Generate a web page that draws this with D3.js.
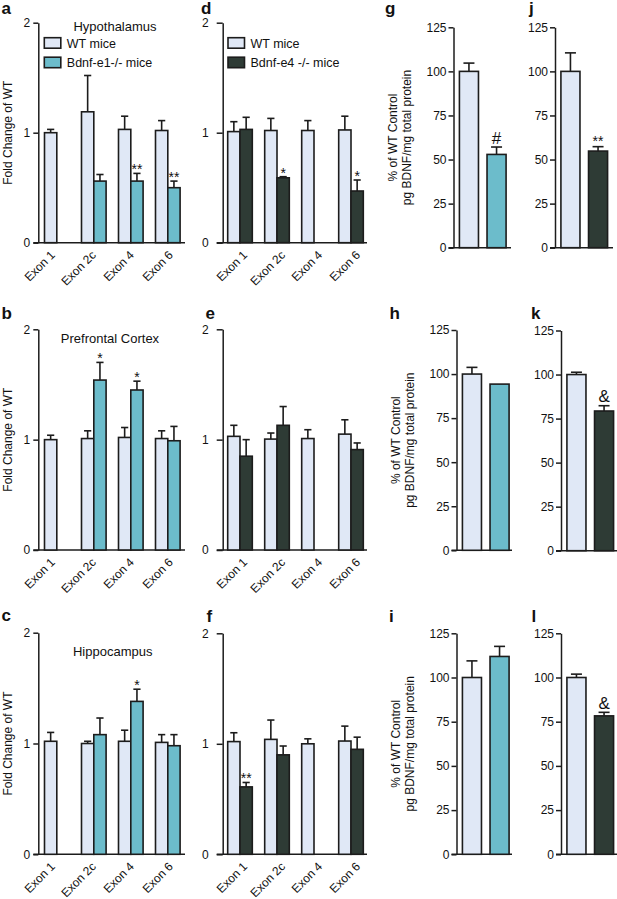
<!DOCTYPE html>
<html><head><meta charset="utf-8">
<script src="https://cdn.jsdelivr.net/npm/d3@7"></script>
<style>
body{margin:0;background:#fff;}
svg{display:block;font-family:"Liberation Sans",Arial,Helvetica,sans-serif;}
</style>
</head><body>
<svg id="chart" width="617" height="899"></svg>
<script>
// ---------- DATA ----------
const exons = ["Exon 1", "Exon 2c", "Exon 4", "Exon 6"];
const groups = ["WT", "KO"];
const foldTicks = [0, 1, 2];
const proteinTicks = [0, 25, 50, 75, 100, 125];
const legendA = ["WT mice", "Bdnf-e1-/- mice"];
const legendD = ["WT mice", "Bdnf-e4 -/- mice"];
const regionTitles = ["Hypothalamus", "Prefrontal Cortex", "Hippocampus"];

// a: Hypothalamus, Bdnf-e1
const wtA = [1.00, 1.19, 1.03, 1.02];
const wtAErr = [0.03, 0.33, 0.12, 0.09];
const koA = [null, 0.56, 0.56, 0.50];
const koAErr = [null, 0.06, 0.07, 0.06];
const sigA = ["", "", "**", "**"];
// b: Prefrontal cortex, Bdnf-e1
const wtB = [1.00, 1.01, 1.02, 1.01];
const wtBErr = [0.04, 0.07, 0.09, 0.07];
const koB = [null, 1.54, 1.45, 0.99];
const koBErr = [null, 0.16, 0.08, 0.13];
const sigB = ["", "*", "*", ""];
// c: Hippocampus, Bdnf-e1
const wtC = [1.02, 1.00, 1.02, 1.01];
const wtCErr = [0.08, 0.02, 0.10, 0.07];
const koC = [null, 1.08, 1.38, 0.98];
const koCErr = [null, 0.15, 0.11, 0.10];
const sigC = ["", "", "*", ""];
// d: Hypothalamus, Bdnf-e4
const wtD = [1.01, 1.02, 1.02, 1.025];
const wtDErr = [0.09, 0.11, 0.09, 0.125];
const koD = [1.03, 0.59, null, 0.47];
const koDErr = [0.11, 0.01, null, 0.10];
const sigD = ["", "*", "", "*"];
// e: Prefrontal cortex, Bdnf-e4
const wtE = [1.03, 1.005, 1.01, 1.05];
const wtEErr = [0.10, 0.055, 0.08, 0.13];
const koE = [0.85, 1.13, null, 0.91];
const koEErr = [0.15, 0.17, null, 0.06];
const sigE = ["", "", "", ""];
// f: Hippocampus, Bdnf-e4
const wtF = [1.02, 1.04, 1.00, 1.025];
const wtFErr = [0.08, 0.175, 0.045, 0.135];
const koF = [0.61, 0.90, null, 0.95];
const koFErr = [0.04, 0.08, null, 0.11];
const sigF = ["**", "", "", ""];

// g-l: BDNF protein, % of WT control [WT, KO]
const protG = [100, 52.9], protGErr = [4.7, 4.2], sigG = "#";
const protH = [100, 94.3], protHErr = [3.8, 0], sigH = "";
const protI = [100, 111.9], protIErr = [9.4, 5.7], sigI = "";
const protJ = [100, 54.8], protJErr = [10.5, 2.5], sigJ = "**";
const protK = [100, 79.3], protKErr = [1.3, 3.0], sigK = "&";
const protL = [100, 78.3], protLErr = [1.9, 2.0], sigL = "&";

// ---------- STYLE ----------
const COL = { wt: "#e0e8f6", e1: "#6cbccb", e4: "#2e3b35", ink: "#1c1c1c" };
const FONT = '"Liberation Sans",Arial,Helvetica,sans-serif';
const svg = d3.select("#chart");

function sigFont(s) { return (s === "&" || s === "#") ? 17 : 14; }

// ---------- FOLD-CHANGE PANELS ----------
function foldPanel(p) {
  const g = svg.append("g");
  const x = d3.scaleBand().domain(exons).range([p.bandStart, p.bandStart + 4 * p.step]);
  const sub = d3.scaleBand().domain(groups)
    .range([x.bandwidth() / 2 - p.barW, x.bandwidth() / 2 + p.barW]);
  const y = d3.scaleLinear().domain([0, 2]).range([p.yBot, p.yTop]);

  // y axis
  const ya = g.append("g").attr("transform", `translate(${p.x0},0)`)
    .call(d3.axisLeft(y).tickValues(foldTicks).tickFormat(d3.format("d"))
      .tickSize(p.tickSize).tickPadding(p.tickPad).tickSizeOuter(0));
  ya.attr("font-family", FONT).attr("font-size", 12);
  ya.selectAll("text").attr("fill", "#111");
  ya.selectAll("line,path").attr("stroke", COL.ink).attr("stroke-width", 1.5);

  // x axis
  const xa = g.append("g").attr("transform", `translate(0,${p.yBot})`)
    .call(d3.axisBottom(x).tickSize(0).tickPadding(0));
  xa.attr("font-family", FONT).attr("font-size", 12);
  xa.select(".domain").attr("d", `M${p.x0 - p.tickSize},0H${p.xEnd}`)
    .attr("stroke", COL.ink).attr("stroke-width", 1.5);
  xa.selectAll("text").attr("fill", "#111")
    .attr("text-anchor", "end").attr("x", 0).attr("y", 0).attr("dy", 0)
    .attr("transform", (d, i) => `translate(${p.labelDx[i]},${p.labelDy}) rotate(-45)`);

  const rows = exons.map((ex, i) => ({ ex, i }));
  const series = [
    { key: "WT", vals: p.wt, errs: p.wtErr, fill: COL.wt },
    { key: "KO", vals: p.ko, errs: p.koErr, fill: p.koColor }
  ];
  series.forEach(s => {
    const present = rows.filter(r => s.vals[r.i] != null);
    const cx = r => x(r.ex) + sub(s.key) + sub.bandwidth() / 2;
    const eb = g.append("g").attr("stroke", COL.ink).attr("stroke-width", 1.6);
    eb.selectAll("line.v").data(present.filter(r => s.errs[r.i] > 0)).join("line")
      .attr("x1", cx).attr("x2", cx)
      .attr("y1", r => y(s.vals[r.i])).attr("y2", r => y(s.vals[r.i] + s.errs[r.i]));
    eb.selectAll("line.c").data(present.filter(r => s.errs[r.i] > 0)).join("line")
      .attr("x1", r => cx(r) - 3.6).attr("x2", r => cx(r) + 3.6)
      .attr("y1", r => y(s.vals[r.i] + s.errs[r.i])).attr("y2", r => y(s.vals[r.i] + s.errs[r.i]));
    g.append("g").selectAll("rect").data(present).join("rect")
      .attr("x", r => x(r.ex) + sub(s.key))
      .attr("width", sub.bandwidth())
      .attr("y", r => y(s.vals[r.i]))
      .attr("height", r => y(0) - y(s.vals[r.i]))
      .attr("fill", s.fill).attr("stroke", COL.ink).attr("stroke-width", 1.6);
    if (s.key === "KO") {
      g.append("g").selectAll("text").data(present.filter(r => p.sig[r.i])).join("text")
        .attr("x", cx).attr("y", r => y(s.vals[r.i] + s.errs[r.i]) + 1)
        .attr("text-anchor", "middle").attr("font-size", r => sigFont(p.sig[r.i]))
        .attr("fill", "#111").text(r => p.sig[r.i]);
    }
  });

  g.append("text").attr("x", p.letter[0]).attr("y", p.letter[1])
    .attr("font-size", 17).attr("font-weight", "bold").attr("fill", "#111").text(p.id);
  if (p.title) {
    g.append("text").attr("x", p.title[1]).attr("y", p.title[2]).attr("text-anchor", "middle")
      .attr("font-size", 13).attr("fill", "#111").text(p.title[0]);
  }
  if (p.yTitle) {
    g.append("text").attr("transform", `translate(12,${(p.yTop + p.yBot) / 2}) rotate(-90)`)
      .attr("text-anchor", "middle").attr("font-size", 12).attr("fill", "#111")
      .text("Fold Change of WT");
  }
  if (p.legend) {
    const lg = g.append("g").attr("transform", `translate(${p.legendPos[0]},${p.legendPos[1]})`);
    const items = p.legend.map((t, i) => ({ t, fill: i === 0 ? COL.wt : p.koColor, i }));
    lg.selectAll("rect").data(items).join("rect")
      .attr("x", 0).attr("y", d => d.i * 19.5).attr("width", 16.5).attr("height", 10.5)
      .attr("fill", d => d.fill).attr("stroke", COL.ink).attr("stroke-width", 1.6);
    lg.selectAll("text").data(items).join("text")
      .attr("x", 22.5).attr("y", d => d.i * 19.5 + 10).attr("font-size", 12.5).attr("fill", "#111")
      .text(d => d.t);
  }
}

// ---------- PROTEIN PANELS ----------
function protPanel(p) {
  const g = svg.append("g");
  const x = d3.scaleBand().domain(groups).range([p.x0 + 1.5, p.x0 + 57])
    .paddingInner(0.31).paddingOuter(0.16);
  const y = d3.scaleLinear().domain([0, 125]).range([p.yBot, p.yTop]);
  const ya = g.append("g").attr("transform", `translate(${p.x0},0)`)
    .call(d3.axisLeft(y).tickValues(proteinTicks).tickSize(5).tickPadding(2).tickSizeOuter(0));
  ya.attr("font-family", FONT).attr("font-size", 12);
  ya.selectAll("text").attr("fill", "#111");
  ya.selectAll("line,path").attr("stroke", COL.ink).attr("stroke-width", 1.5);
  const xa = g.append("g").attr("transform", `translate(0,${p.yBot})`)
    .call(d3.axisBottom(x).tickSize(0).tickFormat(""));
  xa.select(".domain").attr("d", `M${p.x0 - 5},0H${p.xEnd}`)
    .attr("stroke", COL.ink).attr("stroke-width", 1.5);

  const rows = groups.map((k, i) => ({ k, i, v: p.vals[i], e: p.errs[i] }));
  const cx = r => x(r.k) + x.bandwidth() / 2;
  const eb = g.append("g").attr("stroke", COL.ink).attr("stroke-width", 1.6);
  eb.selectAll("line.v").data(rows.filter(r => r.e > 0)).join("line")
    .attr("x1", cx).attr("x2", cx).attr("y1", r => y(r.v)).attr("y2", r => y(r.v + r.e));
  eb.selectAll("line.c").data(rows.filter(r => r.e > 0)).join("line")
    .attr("x1", r => cx(r) - 5.5).attr("x2", r => cx(r) + 5.5)
    .attr("y1", r => y(r.v + r.e)).attr("y2", r => y(r.v + r.e));
  g.append("g").selectAll("rect").data(rows).join("rect")
    .attr("x", r => x(r.k)).attr("width", x.bandwidth())
    .attr("y", r => y(r.v)).attr("height", r => y(0) - y(r.v))
    .attr("fill", r => r.i === 0 ? COL.wt : p.koColor)
    .attr("stroke", COL.ink).attr("stroke-width", 1.6);
  if (p.sig) {
    const r = rows[1];
    g.append("text").attr("x", cx(r)).attr("y", y(r.v + r.e) - (p.sig === "**" ? 1 : 3.5))
      .attr("text-anchor", "middle").attr("font-size", sigFont(p.sig)).attr("fill", "#111").text(p.sig);
  }
  g.append("text").attr("x", p.letter[0]).attr("y", p.letter[1])
    .attr("font-size", 17).attr("font-weight", "bold").attr("fill", "#111").text(p.id);
  if (p.yTitle) {
    const t = g.append("text").attr("transform", `translate(${p.x0 - 57},${(p.yTop + p.yBot) / 2}) rotate(-90)`)
      .attr("text-anchor", "middle").attr("font-size", 12).attr("fill", "#111");
    t.append("tspan").attr("x", 0).attr("y", 0).text("% of WT Control");
    t.append("tspan").attr("x", 0).attr("y", 14).text("pg BDNF/mg total protein");
  }
}

// ---------- LAYOUT ----------
const leftCol = { x0: 38.3, xEnd: 185, bandStart: 38.3, step: 37, barW: 12.3, tickSize: 5, tickPad: 3, koColor: COL.e1, yTitle: true, labelDx: [-1, 3, 4, 6], labelDy: 13 };
const midCol = { x0: 222.7, xEnd: 367, bandStart: 221.5, step: 37, barW: 12.3, tickSize: 6, tickPad: 8, koColor: COL.e4, yTitle: false, labelDx: [8, 9, 9, 10], labelDy: 13 };

foldPanel(Object.assign({}, leftCol, { id: "a", wt: wtA, wtErr: wtAErr, ko: koA, koErr: koAErr, sig: sigA,
  yTop: 22.7, yBot: 242.7, letter: [1.5, 13.5], title: [regionTitles[0], 115, 30.5], legend: legendA, legendPos: [44.3, 37.7] }));
foldPanel(Object.assign({}, leftCol, { id: "b", wt: wtB, wtErr: wtBErr, ko: koB, koErr: koBErr, sig: sigB,
  yTop: 329.3, yBot: 550, letter: [1.5, 319], title: [regionTitles[1], 110, 343.3] }));
foldPanel(Object.assign({}, leftCol, { id: "c", wt: wtC, wtErr: wtCErr, ko: koC, koErr: koCErr, sig: sigC,
  yTop: 632.7, yBot: 854.3, letter: [1.5, 621], title: [regionTitles[2], 112.7, 655.7] }));
foldPanel(Object.assign({}, midCol, { id: "d", wt: wtD, wtErr: wtDErr, ko: koD, koErr: koDErr, sig: sigD,
  yTop: 22.7, yBot: 242.7, letter: [201, 13.5], legend: legendD, legendPos: [228, 37.7] }));
foldPanel(Object.assign({}, midCol, { id: "e", wt: wtE, wtErr: wtEErr, ko: koE, koErr: koEErr, sig: sigE,
  yTop: 329.3, yBot: 550, letter: [205.5, 319] }));
foldPanel(Object.assign({}, midCol, { id: "f", wt: wtF, wtErr: wtFErr, ko: koF, koErr: koFErr, sig: sigF,
  yTop: 633.3, yBot: 854.3, letter: [206.5, 622] }));

protPanel({ id: "g", vals: protG, errs: protGErr, sig: sigG, koColor: COL.e1, x0: 453.5, xEnd: 511, yTop: 27.3, yBot: 247.7, letter: [385, 13.5], yTitle: true });
protPanel({ id: "h", vals: protH, errs: protHErr, sig: sigH, koColor: COL.e1, x0: 456.5, xEnd: 512, yTop: 330, yBot: 550.3, letter: [389.5, 319], yTitle: true });
protPanel({ id: "i", vals: protI, errs: protIErr, sig: sigI, koColor: COL.e1, x0: 456.5, xEnd: 512, yTop: 633.3, yBot: 854.3, letter: [389, 622], yTitle: true });
protPanel({ id: "j", vals: protJ, errs: protJErr, sig: sigJ, koColor: COL.e4, x0: 555, xEnd: 613, yTop: 27.3, yBot: 247.7, letter: [529, 13.5], yTitle: false });
protPanel({ id: "k", vals: protK, errs: protKErr, sig: sigK, koColor: COL.e4, x0: 561, xEnd: 617, yTop: 330.5, yBot: 550.7, letter: [531, 319], yTitle: false });
protPanel({ id: "l", vals: protL, errs: protLErr, sig: sigL, koColor: COL.e4, x0: 561, xEnd: 617, yTop: 633.3, yBot: 854.3, letter: [531.5, 622], yTitle: false });
</script>
</body></html>
